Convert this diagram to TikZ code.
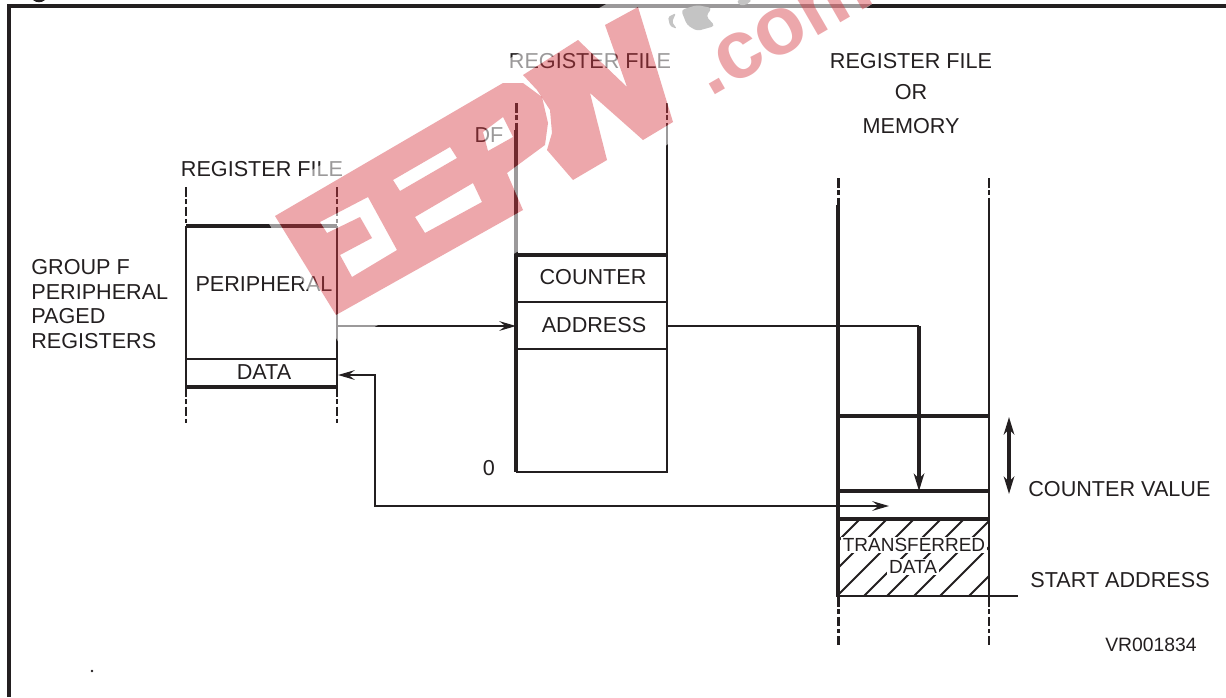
\documentclass[tikz,border=0pt]{standalone}
\usepackage{fontspec}
\setmainfont{Liberation Sans}
\usepackage{tikz}
\usetikzlibrary{calc,arrows.meta}
\definecolor{inkblack}{HTML}{231F20}
\definecolor{wmred}{RGB}{213,55,64}
\definecolor{wmgrey}{HTML}{C4C4C4}
\begin{document}
\begin{tikzpicture}[x=0.02cm,y=-0.02cm,
    thinline/.style={inkblack,line width=0.95pt},
    midline/.style={inkblack,line width=1.15pt},
    heavyline/.style={inkblack,line width=1.8pt},
    cutline/.style={inkblack,line width=1.05pt,dash pattern=on 5.5pt off 1.6pt on 2.4pt off 1.6pt},
    cutheavy/.style={inkblack,line width=1.7pt,dash pattern=on 5.5pt off 1.6pt on 2.4pt off 1.6pt},
    tipA/.tip={Stealth[length=9.5pt,width=5.5pt,inset=3.5pt]},
    tipB/.tip={Stealth[length=10pt,width=6pt,inset=3pt]},
    flow/.style={midline,-tipA},
    label/.style={inkblack,inner sep=0pt,font=\fontsize{12.3}{14}\selectfont},
    smalllabel/.style={inkblack,fill=white,inner ysep=1pt,inner xsep=1pt,font=\fontsize{10.8}{12}\selectfont},
    wmbody/.style={insert path={(275,216) -- (503,83) -- (523,83) -- (542,97) -- (548,123) -- (545,145) -- (507,173) -- (523,210) -- (336,315) -- cycle
        (483,132) -- (503,117) -- (513,137) -- (488,151) -- cycle
        (393,180) -- (450,147) -- (457,158) -- (400,191) -- cycle
        (415,217) -- (473,183) -- (482,202) -- (425,233) -- cycle
        (320,222) -- (368,197) -- (397,250) -- (352,277) -- (340,255) -- (372,238) -- (360,217) -- (327,233) -- cycle}},
    wmdouble/.style={insert path={(523,75) -- (578,40) -- (627,87) -- (605,25) -- (638,7) -- (673,122) -- (643,140) -- (590,93) -- (607,160) -- (573,180) -- (547,150) -- (552,133) -- (550,110) -- (537,90) -- cycle}}]
    \useasboundingbox (0,0) rectangle (1226,697);
    \clip (0,0) rectangle (1226,697);
    % frame
    \coordinate (frameBL) at (9,697);
    \coordinate (frameTL) at (9,6);
    \coordinate (frameTR) at (1226,6);
    \draw[inkblack,line width=1.8pt] (frameBL) -- (frameTL) -- (frameTR);
    \fill[inkblack] (33,0) .. controls (36,3) and (42,3) .. (45,0) -- cycle;
    \fill[inkblack] (92,671) circle (1.4);
    % peripheral column
    \coordinate (perTL) at (186,226);
    \coordinate (perTR) at (337,226);
    \coordinate (perBL) at (186,387);
    \coordinate (perBR) at (337,387);
    \coordinate (perDL) at (186,359);
    \coordinate (perDR) at (337,359);
    \coordinate (perOut) at (337,326);
    \coordinate (perIn) at (338,375);
    \draw[heavyline] (perTL) -- (perTR);
    \draw[heavyline] (perBL) -- (perBR);
    \draw[thinline] (perDL) -- (perDR);
    \draw[midline] (perTL) -- (perBL);
    \draw[midline] (perTR) -- (perBR);
    \draw[cutline] (186,187) -- (perTL);
    \draw[cutline] (337,187) -- (perTR);
    \draw[cutline] (perBL) -- (186,425);
    \draw[cutline] (perBR) -- (337,425);
    % register file column
    \coordinate (regTL) at (516,130);
    \coordinate (regTR) at (667,130);
    \coordinate (regBL) at (516,472);
    \coordinate (regBR) at (667,472);
    \coordinate (addrIn) at (516,326);
    \coordinate (addrOut) at (667,326);
    \draw[heavyline] (regTL) -- (regBL);
    \draw[midline] (regBL) -- (regBR) -- (regTR);
    \draw[heavyline] (regTL |- 0,255) -- (regTR |- 0,255);
    \foreach \h in {302,349} {\draw[thinline] (516,\h) -- (667,\h);}
    \draw[cutheavy] (516,103) -- (regTL);
    \draw[cutline] (667,103) -- (regTR);
    % memory column
    \coordinate (memTL) at (838,205);
    \coordinate (memTR) at (989,205);
    \coordinate (memBL) at (838,597);
    \coordinate (memBR) at (989,597);
    \coordinate (memHit) at (919,491);
    \coordinate (memIn) at (889,506);
    \coordinate (startEnd) at (1018,596);
    \draw[heavyline] (memTL) -- (memBL);
    \draw[midline] (memTR) -- (memBR);
    \foreach \h in {416,491} {\draw[heavyline] (838,\h) -- (989,\h);}
    \draw[heavyline] (838,519) -- (989,519);
    \draw[thinline] (memBL |- startEnd) -- (startEnd);
    \draw[cutheavy] (838,178) -- (memTL);
    \draw[cutline] (989,178) -- (memTR);
    \draw[cutheavy] (memBL) -- (838,645);
    \draw[cutline] (memBR) -- (989,645);
    % hatching
    \begin{scope}
        \clip (838,519) rectangle (989,596);
        \foreach \s in {1379,1406,1433,1460,1483,1510,1536,1565} {
            \draw[inkblack,line width=1.1pt] (\s-519,519) -- (\s-596,596);
        }
    \end{scope}
    % connectors
    \draw[flow] (perOut) -- (addrIn);
    \draw[midline] (addrOut) -- (919,326);
    \draw[heavyline,-tipB] (919,326) -- (memHit);
    \draw[midline,tipA-tipA] (perIn) -| (375,506) -- (memIn);
    \draw[inkblack,line width=1.8pt,tipB-tipB] (1009,417) coordinate (spanTop) -- (1009,494) coordinate (spanBot);
    % labels
    \node[label] (rfPer) at (262,169) {REGISTER FILE};
    \node[label] (rfMid) at (590,61) {REGISTER FILE};
    \node[label] (rfMem) at (911,61) {REGISTER FILE};
    \node[label] (orMem) at (911,92) {OR};
    \node[label] (memName) at (911,126) {MEMORY};
    \node[label] (lblDF) at (489,135) {DF};
    \node[label] (lblZero) at (489,468) {0};
    \node[label,anchor=west] (grpA) at (31,267) {GROUP F};
    \node[label,anchor=west] (grpB) at (31,292) {PERIPHERAL};
    \node[label,anchor=west] (grpC) at (31,316) {PAGED};
    \node[label,anchor=west] (grpD) at (31,341) {REGISTERS};
    \node[label] (lblPer) at (264,284) {PERIPHERAL};
    \node[label] (lblData) at (264,372) {DATA};
    \node[label] (lblCnt) at (593,277) {COUNTER};
    \node[label] (lblAddr) at (594,325) {ADDRESS};
    \node[smalllabel] (lblXfer) at (914,545) {TRANSFERRED};
    \node[smalllabel] (lblXdata) at (913,567) {DATA};
    \node[label,anchor=west] (lblCval) at (1028,489) {COUNTER VALUE};
    \node[label,anchor=west] (lblStart) at (1030,580) {START ADDRESS};
    \node[label,font=\fontsize{11}{13}\selectfont] (lblCode) at (1151,645) {VR001834};
    % watermark
    \fill[white,opacity=0.55,even odd rule] (268,222) -- (312,170) -- (640,-15) -- (900,-15) -- (680,135) -- (540,240) -- (340,345) -- (328,324) -- cycle [wmbody] [wmdouble];
    \path[fill=wmred,opacity=0.44,even odd rule,wmbody];
    \path[fill=wmred,opacity=0.44,wmdouble];
    \node[anchor=base west,rotate=30,inner sep=0pt,text=wmred,text opacity=0.44,font=\fontsize{47}{50}\selectfont\bfseries] (wmCom) at (710,98) {.com};
    \fill[wmgrey,rounded corners=2] (681,10) -- (697,5) -- (712,8) -- (706,16) -- (715,26) -- (697,31) -- (687,25) -- cycle;
    \fill[wmgrey,rounded corners=1] (668,17) -- (676,13) -- (672,22) -- (677,29) -- (670,26) -- cycle;
    \fill[wmgrey,rounded corners=1] (737,0) -- (752,0) -- (746,5) -- (739,5) -- cycle;
\end{tikzpicture}
\end{document}
